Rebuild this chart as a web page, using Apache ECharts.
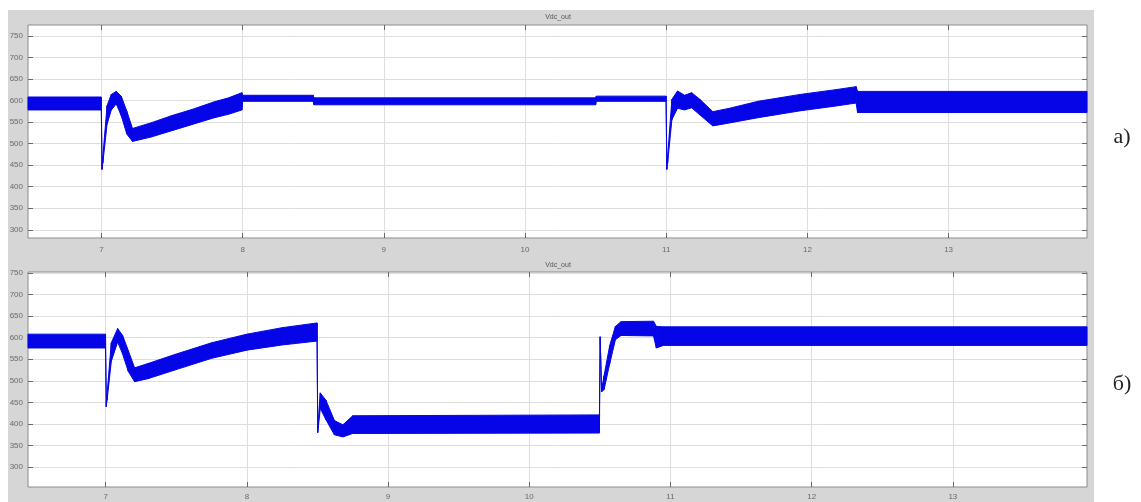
<!DOCTYPE html>
<html><head><meta charset="utf-8">
<script src="https://cdn.jsdelivr.net/npm/echarts@6/dist/echarts.min.js"></script>
<style>html,body{margin:0;padding:0;background:#fff}#c{width:1141px;height:502px}</style>
</head><body><div id="c"></div>
<script>
// ---- tick labels ----
const xTicks = [7, 8, 9, 10, 11, 12, 13];
const yTicks = [300, 350, 400, 450, 500, 550, 600, 650, 700, 750];
const panelTitle = 'Vdc_out';
const panelLabels = ['a)', 'б)'];

// ---- panel a): time, upper and lower envelope of the ripple band ----
const tA  = [6.48, 6.999, 7.004, 7.01, 7.04, 7.07, 7.105, 7.14, 7.18, 7.22, 7.35, 7.5, 7.65, 7.8, 7.9, 7.995, 8.0, 8.5, 8.505, 10.5, 10.505, 10.999, 11.004, 11.01, 11.04, 11.08, 11.13, 11.18, 11.24, 11.33, 11.45, 11.65, 11.95, 12.2, 12.345, 12.355, 13.98];
const upA = [608, 608, 452, 470, 588, 614, 621, 610, 575, 535, 548, 565, 580, 597, 606, 618, 612, 612, 606, 606, 610, 610, 452, 470, 602, 622, 612, 618, 602, 574, 582, 598, 614, 625, 632, 621, 621];
const loA = [578, 578, 440, 455, 545, 578, 592, 565, 522, 505, 515, 530, 545, 560, 568, 578, 598, 598, 590, 590, 598, 598, 440, 455, 555, 582, 578, 583, 566, 541, 548, 560, 576, 587, 594, 572, 572];

// ---- panel б) ----
const tB  = [6.45, 6.999, 7.004, 7.01, 7.04, 7.085, 7.12, 7.16, 7.205, 7.3, 7.5, 7.75, 8.0, 8.25, 8.497, 8.502, 8.52, 8.56, 8.62, 8.68, 8.75, 10.497, 10.502, 10.512, 10.53, 10.57, 10.61, 10.65, 10.88, 10.9, 10.95, 13.95];
const upB = [608, 608, 452, 470, 588, 621, 605, 570, 530, 540, 562, 588, 608, 623, 634, 388, 472, 455, 408, 398, 419, 421, 602, 480, 512, 582, 626, 637, 638, 626, 625, 625];
const loB = [576, 576, 440, 455, 545, 590, 562, 522, 498, 505, 526, 552, 571, 583, 592, 380, 436, 410, 375, 370, 378, 379, 600, 474, 480, 540, 595, 605, 604, 576, 582, 582];

const BLUE = '#0505e8';
const panels = [
  {t: tA, up: upA, lo: loA, xMin: 6.48, xMax: 13.98, yMin: 281, yMax: 775, top: 25, height: 213},
  {t: tB, up: upB, lo: loB, xMin: 6.45, xMax: 13.95, yMin: 254, yMax: 752, top: 272, height: 215}
];

const grids = [], xAxes = [], yAxes = [], series = [];
const tickStyle = {color: '#6a6a6a', width: 1};
const gridColor = '#dedede';
const labelFont = {fontSize: 8, color: '#6a6a6a', fontFamily: 'Liberation Sans'};

panels.forEach((p, i) => {
  grids.push({left: 28, width: 1059, top: p.top, height: p.height, show: true,
    backgroundColor: '#ffffff', borderColor: '#8c8c8c', borderWidth: 1});
  xAxes.push({type: 'value', gridIndex: i, min: p.xMin, max: p.xMax, position: 'bottom',
    axisLine: {show: false},
    axisTick: {show: true, inside: true, length: 5, lineStyle: tickStyle, customValues: xTicks},
    axisLabel: Object.assign({customValues: xTicks, margin: i === 0 ? 8 : 6}, labelFont),
    splitLine: {show: true, lineStyle: {color: gridColor, width: 1}}});
  xAxes.push({type: 'value', gridIndex: i, min: p.xMin, max: p.xMax, position: 'top',
    axisLine: {show: false},
    axisTick: {show: true, inside: true, length: 5, lineStyle: tickStyle, customValues: xTicks},
    axisLabel: {show: false}, splitLine: {show: false}});
  yAxes.push({type: 'value', gridIndex: i, min: p.yMin, max: p.yMax, position: 'left',
    axisLine: {show: false},
    axisTick: {show: true, inside: true, length: 5, lineStyle: tickStyle, customValues: yTicks},
    axisLabel: Object.assign({customValues: yTicks, margin: 5}, labelFont),
    splitLine: {show: true, lineStyle: {color: gridColor, width: 1}}});
  yAxes.push({type: 'value', gridIndex: i, min: p.yMin, max: p.yMax, position: 'right',
    axisLine: {show: false},
    axisTick: {show: true, inside: true, length: 5, lineStyle: tickStyle, customValues: yTicks},
    axisLabel: {show: false}, splitLine: {show: false}});
  const rows = p.t.map((x, k) => [x, p.up[k], p.lo[k]]);
  series.push({
    type: 'custom', xAxisIndex: i * 2, yAxisIndex: i * 2, data: rows, silent: true, z: 3,
    encode: {x: 0, y: [1, 2]},
    renderItem: function (params, api) {
      const k = params.dataIndex;
      if (k === 0) return null;
      const a0 = api.coord([p.t[k - 1], p.up[k - 1]]);
      const b0 = api.coord([p.t[k - 1], p.lo[k - 1]]);
      const a1 = api.coord([api.value(0), api.value(1)]);
      const b1 = api.coord([api.value(0), api.value(2)]);
      return {type: 'polygon', shape: {points: [a0, a1, b1, b0]},
        style: {fill: BLUE, stroke: BLUE, lineWidth: 1}};
    }
  });
});

const chart = echarts.init(document.getElementById('c'));
chart.setOption({
  animation: false,
  backgroundColor: '#ffffff',
  grid: grids, xAxis: xAxes, yAxis: yAxes, series: series,
  graphic: [
    {type: 'rect', z: -100, shape: {x: 8, y: 10, width: 1086, height: 492}, style: {fill: '#d6d6d6'}},
    {type: 'text', x: 558, y: 17, style: {text: panelTitle, align: 'center', verticalAlign: 'middle',
      font: '7px "Liberation Sans"', fill: '#555'}},
    {type: 'text', x: 558, y: 265, style: {text: panelTitle, align: 'center', verticalAlign: 'middle',
      font: '7px "Liberation Sans"', fill: '#555'}},
    {type: 'text', x: 1122, y: 137, style: {text: panelLabels[0], align: 'center', verticalAlign: 'middle',
      font: '22px "Liberation Serif"', fill: '#222'}},
    {type: 'text', x: 1122, y: 384, style: {text: panelLabels[1], align: 'center', verticalAlign: 'middle',
      font: '22px "Liberation Serif"', fill: '#222'}}
  ]
});
</script></body></html>
